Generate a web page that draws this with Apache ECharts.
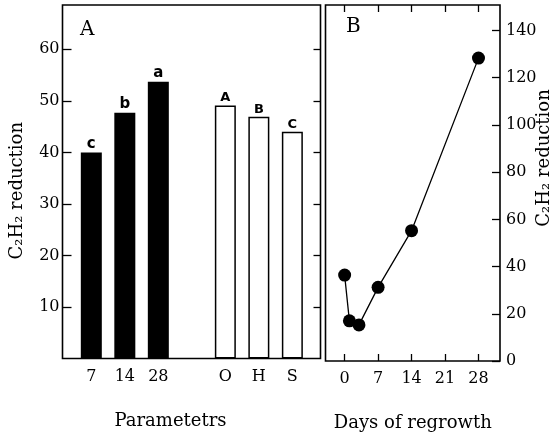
<!DOCTYPE html>
<html>
<head>
<meta charset="utf-8">
<script src="https://cdn.jsdelivr.net/npm/echarts@6/dist/echarts.min.js"></script>
<style>
html,body{margin:0;padding:0;background:#fff;}
#chart{width:554px;height:437px;}
</style>
</head>
<body>
<div id="chart"></div>
<script>
// Panel A data
const categoriesA = ['7', '14', '28', '', 'O', 'H', 'S'];
const blackIdx = [0, 1, 2];
const blackValues = [40, 47.7, 53.7];
const blackLetters = ['c', 'b', 'a'];
const whiteIdx = [4, 5, 6];
const whiteValues = [49.1, 46.9, 44.0];
const whiteLetters = ['A', 'B', 'C'];
const yTicksA = [10, 20, 30, 40, 50, 60];

// Panel B data
const days = [0, 1, 3, 7, 14, 28];
const reductionB = [36.4, 17, 15.3, 31.2, 55.2, 128.3];
const xTicksB = [0, 7, 14, 21, 28];
const yTicksB = [0, 20, 40, 60, 80, 100, 120, 140];

const serif = 'DejaVu Serif';
const tickFont = {fontFamily: serif, fontSize: 16, color: '#000'};
const axisNameFont = {fontFamily: serif, fontSize: 18, color: '#000'};

const chart = echarts.init(document.getElementById('chart'));
chart.setOption({
  backgroundColor: '#fff',
  animation: false,
  title: [
    {text: 'A', left: 80, top: 20, textStyle: {fontFamily: serif, fontSize: 20, fontWeight: 'normal', color: '#000'}, padding: 0},
    {text: 'B', left: 346, top: 17, textStyle: {fontFamily: serif, fontSize: 20, fontWeight: 'normal', color: '#000'}, padding: 0}
  ],
  grid: [
    {left: 62.5, right: 233.5, top: 5, bottom: 78.5, show: true, borderColor: '#000', borderWidth: 1.6, backgroundColor: 'transparent', outerBoundsMode: 'none', containLabel: false},
    {left: 325.5, right: 54, top: 5, bottom: 76, show: true, borderColor: '#000', borderWidth: 1.6, backgroundColor: 'transparent', outerBoundsMode: 'none', containLabel: false}
  ],
  xAxis: [
    {
      type: 'value', gridIndex: 0, min: -0.86, max: 6.84, position: 'bottom',
      axisLine: {show: false, onZero: false}, splitLine: {show: false},
      axisTick: {show: false},
      axisLabel: {
        customValues: [0, 1, 2, 4, 5, 6],
        formatter: v => categoriesA[Math.round(v)] || '',
        margin: 10, ...tickFont
      },
      name: 'Parametetrs', nameLocation: 'middle', nameGap: 54,
      nameTextStyle: {...axisNameFont, padding: [0, 42, 0, 0]}
    },
    {
      type: 'value', gridIndex: 1, min: -4, max: 32.5, position: 'bottom',
      axisLine: {show: false, onZero: false}, splitLine: {show: false},
      axisTick: {show: true, inside: true, length: 7, customValues: xTicksB, lineStyle: {color: '#000', width: 1.3}},
      axisLabel: {customValues: xTicksB, margin: 10, ...tickFont},
      name: 'Days of regrowth', nameLocation: 'middle', nameGap: 53,
      nameTextStyle: {...axisNameFont}
    },
    {
      type: 'value', gridIndex: 1, min: -4, max: 32.5, position: 'top',
      axisLine: {show: false, onZero: false}, splitLine: {show: false},
      axisTick: {show: true, inside: true, length: 7, customValues: xTicksB, lineStyle: {color: '#000', width: 1.3}},
      axisLabel: {show: false}
    }
  ],
  yAxis: [
    {
      type: 'value', gridIndex: 0, min: 0, max: 68.6, position: 'left',
      axisLine: {show: false, onZero: false}, splitLine: {show: false},
      axisTick: {show: true, inside: true, length: 9, customValues: yTicksA, lineStyle: {color: '#000', width: 1.3}},
      axisLabel: {customValues: yTicksA, margin: 3, ...tickFont},
      name: 'C₂H₂ reduction', nameLocation: 'middle', nameRotate: 90, nameGap: 36,
      nameTextStyle: {...axisNameFont, padding: [0, 18, 0, 0]}
    },
    {
      type: 'value', gridIndex: 0, min: 0, max: 68.6, position: 'right',
      axisLine: {show: false, onZero: false}, splitLine: {show: false},
      axisTick: {show: true, inside: true, length: 7, customValues: yTicksA, lineStyle: {color: '#000', width: 1.3}},
      axisLabel: {show: false}
    },
    {
      type: 'value', gridIndex: 1, min: 0, max: 150.8, position: 'right',
      axisLine: {show: false, onZero: false}, splitLine: {show: false},
      axisTick: {show: true, inside: true, length: 8, customValues: yTicksB, lineStyle: {color: '#000', width: 1.3}},
      axisLabel: {customValues: yTicksB, margin: 6, ...tickFont},
      name: 'C₂H₂ reduction', nameLocation: 'middle', nameRotate: 90, nameGap: 35, nameMoveOverlap: false,
      nameTextStyle: {...axisNameFont, padding: [0, 0, 0, 50]}
    }
  ],
  series: [
    {
      type: 'bar', xAxisIndex: 0, yAxisIndex: 0, barWidth: 21,
      data: blackIdx.map((x, i) => [x, blackValues[i]]),
      itemStyle: {color: '#000'},
      label: {show: true, position: 'top', distance: 1, formatter: p => blackLetters[p.dataIndex],
        fontFamily: 'DejaVu Sans', fontWeight: 'bold', fontSize: 15, color: '#000'}
    },
    {
      type: 'bar', xAxisIndex: 0, yAxisIndex: 0, barWidth: 21, barGap: '-100%',
      data: whiteIdx.map((x, i) => [x, whiteValues[i]]),
      itemStyle: {color: '#fff', borderColor: '#000', borderWidth: 1.5},
      label: {show: true, position: 'top', distance: 1, formatter: p => whiteLetters[p.dataIndex],
        fontFamily: 'DejaVu Sans', fontWeight: 'bold', fontSize: 13, color: '#000'}
    },
    {
      type: 'line', xAxisIndex: 1, yAxisIndex: 2,
      data: days.map((d, i) => [d, reductionB[i]]),
      symbol: 'circle', symbolSize: 13,
      itemStyle: {color: '#000'},
      lineStyle: {color: '#000', width: 1.3}
    }
  ]
});
</script>
</body>
</html>
